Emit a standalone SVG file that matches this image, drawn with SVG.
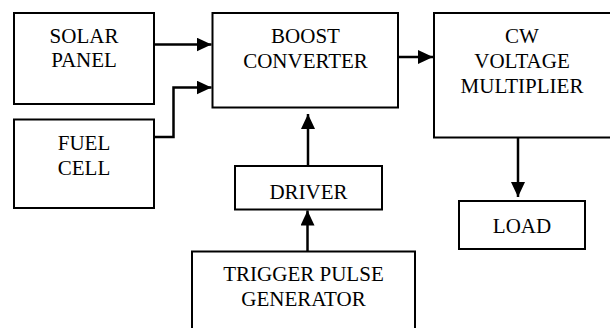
<svg xmlns="http://www.w3.org/2000/svg" width="610" height="328" viewBox="0 0 610 328">
<style>
.box{fill:#fff;stroke:#000;stroke-width:2}
.lbl{font-family:"Liberation Serif","Times New Roman",serif;font-size:21px;fill:#000;text-anchor:middle}
.con{fill:none;stroke:#000;stroke-width:2.5;marker-end:url(#ah)}
</style>
<defs>
<marker id="ah" markerUnits="userSpaceOnUse" markerWidth="16" markerHeight="15" refX="15" refY="7" orient="auto" viewBox="0 0 16 15">
<path d="M0,0 L15,7 L0,14 z" fill="#000"/>
</marker>
</defs>
<rect width="610" height="328" fill="#fff"/>
<g id="solar">
<rect class="box" x="14" y="13" width="140" height="91"/>
<text class="lbl" x="84" y="43">SOLAR</text>
<text class="lbl" x="84" y="67">PANEL</text>
</g>
<g id="fuel">
<rect class="box" x="14" y="119.5" width="140" height="88.5"/>
<text class="lbl" x="84" y="150">FUEL</text>
<text class="lbl" x="84" y="175">CELL</text>
</g>
<g id="boost">
<rect class="box" x="212.5" y="13" width="185.5" height="94.5"/>
<text class="lbl" x="305.5" y="43">BOOST</text>
<text class="lbl" x="305.5" y="68">CONVERTER</text>
</g>
<g id="cw">
<rect class="box" x="434" y="13" width="200" height="124.5"/>
<text class="lbl" x="522" y="43">CW</text>
<text class="lbl" x="522" y="68">VOLTAGE</text>
<text class="lbl" x="522" y="93">MULTIPLIER</text>
</g>
<g id="driver">
<rect class="box" x="235" y="166" width="147" height="43.5"/>
<text class="lbl" x="308.5" y="199">DRIVER</text>
</g>
<g id="load">
<rect class="box" x="459" y="201" width="126" height="48"/>
<text class="lbl" x="522" y="233">LOAD</text>
</g>
<g id="trigger">
<rect class="box" x="192" y="251.5" width="223" height="100"/>
<text class="lbl" x="303.5" y="281">TRIGGER PULSE</text>
<text class="lbl" x="303.5" y="306">GENERATOR</text>
</g>
<g id="connectors">
<path class="con" d="M154,44.5 H211.5"/>
<path class="con" d="M154,137 H173.5 V87.5 H211.5"/>
<path class="con" d="M398,57 H433"/>
<path class="con" d="M308,165 V114"/>
<path class="con" d="M307.5,251 V210.5"/>
<path class="con" d="M518,138 V197"/>
</g>
</svg>
